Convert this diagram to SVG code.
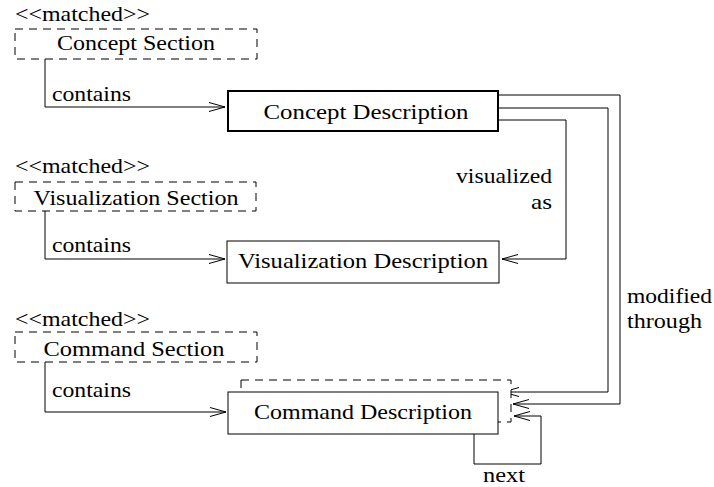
<svg xmlns="http://www.w3.org/2000/svg" width="714" height="487" viewBox="0 0 714 487">
<defs>
<marker id="arr" markerUnits="userSpaceOnUse" markerWidth="20" markerHeight="12" viewBox="-17 -6 19 12" refX="0" refY="0" orient="auto">
<path d="M -16 -4.5 L 0 0 L -16 4.5" fill="none" stroke="#000" stroke-width="1"/>
</marker>
<style>
.t { font-family: 'Liberation Serif', 'DejaVu Serif', serif; font-size: 22px; fill: #000; }
.mid { text-anchor: middle; }
.end { text-anchor: end; }
.sect { fill: #fff; stroke: #000; stroke-width: 1; stroke-dasharray: 8 6; }
.box { fill: #fff; stroke: #000; stroke-width: 1; }
.bold { fill: #fff; stroke: #000; stroke-width: 2; }
.conn { fill: none; stroke: #000; stroke-width: 1; marker-end: url(#arr); }
</style>
</defs>
<rect width="714" height="487" fill="#fff"/>

<g id="connectors">
<path class="conn" d="M 45 59 V 107 H 225"/>
<path class="conn" d="M 45 211 V 259 H 225"/>
<path class="conn" d="M 45 362 V 412 H 226"/>
<path class="conn" d="M 499 120 H 566 V 259 H 502"/>
<path class="conn" d="M 499 108 H 608 V 392 H 503"/>
<path class="conn" d="M 499 95 H 620 V 404 H 513"/>
<path class="conn" d="M 474 434 V 464 H 541 V 416 H 514"/>
<g class="t">
<text x="15" y="21" textLength="135" lengthAdjust="spacingAndGlyphs">&lt;&lt;matched&gt;&gt;</text>
<text x="15" y="173" textLength="135" lengthAdjust="spacingAndGlyphs">&lt;&lt;matched&gt;&gt;</text>
<text x="15" y="326" textLength="135" lengthAdjust="spacingAndGlyphs">&lt;&lt;matched&gt;&gt;</text>
<text x="52" y="101" textLength="79" lengthAdjust="spacingAndGlyphs">contains</text>
<text x="52" y="252" textLength="79" lengthAdjust="spacingAndGlyphs">contains</text>
<text x="52" y="397" textLength="79" lengthAdjust="spacingAndGlyphs">contains</text>
<text class="end" x="552" y="183" textLength="96" lengthAdjust="spacingAndGlyphs">visualized</text>
<text class="end" x="552" y="209" textLength="21" lengthAdjust="spacingAndGlyphs">as</text>
<text x="627" y="303" textLength="85" lengthAdjust="spacingAndGlyphs">modified</text>
<text x="627" y="328" textLength="75" lengthAdjust="spacingAndGlyphs">through</text>
<text class="mid" x="504" y="482" textLength="42" lengthAdjust="spacingAndGlyphs">next</text>
</g>
</g>

<g id="concept-section">
<rect class="sect" x="15" y="29" width="242" height="30"/>
<text class="t mid" x="136" y="50" textLength="158" lengthAdjust="spacingAndGlyphs">Concept Section</text>
</g>

<g id="concept-description">
<rect class="bold" x="228" y="91" width="270" height="40"/>
<text class="t mid" x="366" y="119" textLength="205" lengthAdjust="spacingAndGlyphs">Concept Description</text>
</g>

<g id="visualization-section">
<rect class="sect" x="15" y="182" width="241" height="29"/>
<text class="t mid" x="136" y="205" textLength="205" lengthAdjust="spacingAndGlyphs">Visualization Section</text>
</g>

<g id="visualization-description">
<rect class="box" x="227" y="241" width="272" height="42"/>
<text class="t mid" x="363" y="268" textLength="250" lengthAdjust="spacingAndGlyphs">Visualization Description</text>
</g>

<g id="command-section">
<rect class="sect" x="15" y="332" width="242" height="30"/>
<text class="t mid" x="134" y="356" textLength="181" lengthAdjust="spacingAndGlyphs">Command Section</text>
</g>

<g id="command-description">
<rect class="sect" x="241" y="380" width="270" height="42"/>
<rect class="box" x="228" y="392" width="270" height="42"/>
<text class="t mid" x="363" y="419" textLength="218" lengthAdjust="spacingAndGlyphs">Command Description</text>
</g>
</svg>
